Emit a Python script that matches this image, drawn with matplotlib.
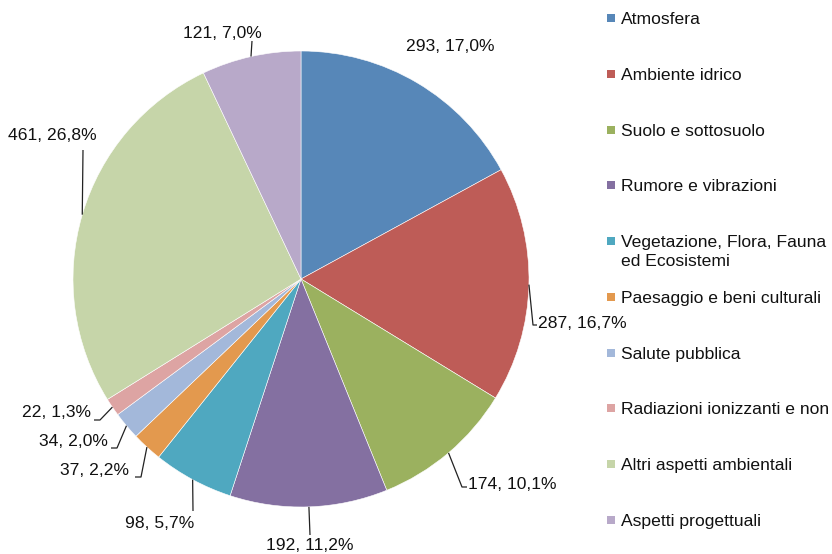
import numpy as np
import matplotlib
matplotlib.use("Agg")
import matplotlib.pyplot as plt
from matplotlib.patches import Rectangle

plt.rcParams['font.family'] = ['Liberation Sans', 'DejaVu Sans']

categories = ["Atmosfera", "Ambiente idrico", "Suolo e sottosuolo", "Rumore e vibrazioni",
              "Vegetazione, Flora, Fauna\ned Ecosistemi", "Paesaggio e beni culturali",
              "Salute pubblica", "Radiazioni ionizzanti e non", "Altri aspetti ambientali",
              "Aspetti progettuali"]
values = [293, 287, 174, 192, 98, 37, 34, 22, 461, 121]
colors = ["#5787B8", "#BE5C57", "#9BB15F", "#8470A1", "#4FA8C0", "#E3994E",
          "#A3B8DA", "#DDA4A3", "#C6D5A9", "#B8A9C9"]

W, H = 832, 554
CX, CY, R = 301, 279, 228
FS = 12.6

fig = plt.figure(figsize=(W / 100, H / 100), dpi=100)
ax = fig.add_axes([0, 0, 1, 1])

def P(px, py):
    return ((px - CX) / R, (CY - py) / R)

wedges, _ = ax.pie(values, colors=colors, startangle=90, counterclock=False,
                   radius=1, wedgeprops=dict(edgecolor='white', linewidth=0.4))
ax.set_xlim(-CX / R, (W - CX) / R)
ax.set_ylim((CY - H) / R, CY / R)
ax.set_aspect('auto')
ax.axis('off')

total = sum(values)
labels = [f"{v}, {100 * v / total:.1f}%".replace('.', ',') for v in values]

# label layout (pixel positions): text position, ha, va, leader end, horizontal tick dx
label_layout = [
    ((450, 47), 'center', 'center', None, 0),
    ((538, 324), 'left', 'center', (533, 325), 4),
    ((468, 485), 'left', 'center', (462, 487), 5),
    ((310, 546), 'center', 'center', (310, 535), 0),
    ((194, 524), 'right', 'center', (193, 511), 0),
    ((129, 471), 'right', 'center', (141, 477), -6),
    ((108, 442), 'right', 'center', (117, 448), -6),
    ((91, 413), 'right', 'center', (100, 420), -6),
    ((52, 136), 'center', 'center', (83, 150), 0),
    ((222, 33), 'center', 'center', (252, 41), 0),
]

for w, lab, (tpos, ha, va, lend, dx) in zip(wedges, labels, label_layout):
    ang = np.deg2rad((w.theta1 + w.theta2) / 2)
    ex, ey = np.cos(ang), np.sin(ang)
    tx, ty = P(*tpos)
    ax.text(tx, ty, lab, ha=ha, va=va, fontsize=FS, color='#111111')
    if lend is not None:
        lx, ly = P(*lend)
        xs = [ex, lx]
        ys = [ey, ly]
        if dx:
            xs.append(lx + dx / R)
            ys.append(ly)
        ax.plot(xs, ys, color='#222222', lw=0.9, solid_capstyle='butt')

# legend
ly0, step = 18, (520 - 18) / 9
for i, (name, c) in enumerate(zip(categories, colors)):
    yc = ly0 + i * step
    fig.patches.append(Rectangle((607 / W, 1 - (yc + 4) / H), 8 / W, 8 / H,
                                 transform=fig.transFigure, facecolor=c, edgecolor='none'))
    fig.text(621 / W, 1 - (yc - 6) / H, name, ha='left', va='top', fontsize=FS,
             color='#111111', linespacing=1.33)

fig.savefig("out.png", dpi=100)
